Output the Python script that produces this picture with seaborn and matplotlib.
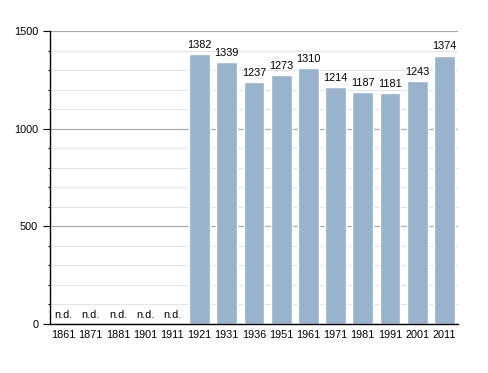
import matplotlib
matplotlib.use("Agg")
import matplotlib.pyplot as plt
import numpy as np
import pandas as pd
import seaborn as sns
from matplotlib.ticker import MultipleLocator

# Data
years = ['1861', '1871', '1881', '1901', '1911', '1921', '1931', '1936',
         '1951', '1961', '1971', '1981', '1991', '2001', '2011']
population = [np.nan, np.nan, np.nan, np.nan, np.nan, 1382, 1339, 1237,
              1273, 1310, 1214, 1187, 1181, 1243, 1374]

df = pd.DataFrame({'year': years, 'pop': population})

sns.set_style('white')
plt.rcParams['font.family'] = ['Liberation Sans', 'DejaVu Sans']
plt.rcParams['text.color'] = 'black'
plt.rcParams['xtick.color'] = 'black'
plt.rcParams['ytick.color'] = 'black'

fig = plt.figure(figsize=(4.88, 3.73), dpi=100)
ax = fig.add_axes([50 / 488, 1 - 324 / 373, 408 / 488, 293 / 373])

sns.barplot(data=df, x='year', y='pop', color='#9ab3cd', saturation=1,
            width=0.77, ax=ax)
for p in ax.patches:
    p.set_zorder(3)

for i, v in enumerate(population):
    if np.isnan(v):
        ax.text(i, 22, 'n.d.', ha='center', va='bottom', fontsize=7.8, zorder=4)
    else:
        ax.text(i, v + 22, str(int(v)), ha='center', va='bottom', fontsize=7.8, zorder=4)

ax.set_ylim(0, 1500)
ax.set_xlim(-0.5, len(years) - 0.5)
ax.yaxis.set_major_locator(MultipleLocator(500))
ax.yaxis.set_minor_locator(MultipleLocator(100))
ax.grid(axis='y', which='major', color='#aaaaaa', linewidth=0.9)
ax.grid(axis='y', which='minor', color='#e4e4e4', linewidth=0.8)
ax.set_axisbelow(True)

ax.tick_params(axis='y', which='major', left=True, length=5, width=0.8,
               labelsize=7.8, pad=3.5)
ax.tick_params(axis='y', which='minor', left=True, length=1.5, width=0.8)
ax.tick_params(axis='x', bottom=False, labelsize=7.8, pad=1)

for s in ['top', 'right']:
    ax.spines[s].set_visible(False)
for s in ['left', 'bottom']:
    ax.spines[s].set_color('black')
    ax.spines[s].set_linewidth(1)
    ax.spines[s].set_zorder(5)

ax.set_xlabel('')
ax.set_ylabel('')

plt.savefig('out.png', dpi=100)
